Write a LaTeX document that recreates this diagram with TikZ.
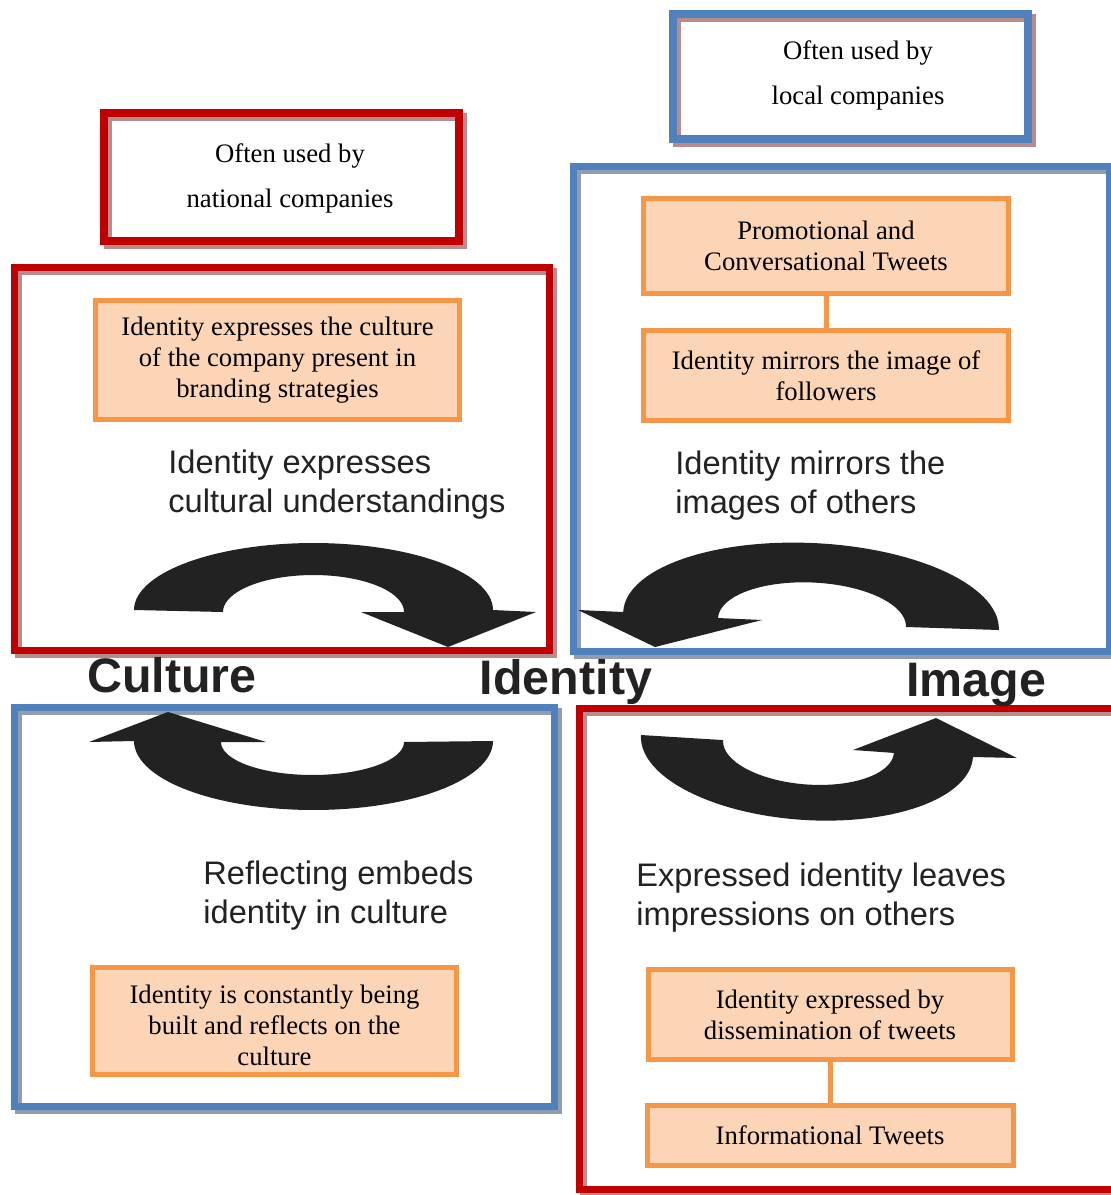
\documentclass[tikz,border=0pt]{standalone}
\usepackage{fontspec}
\setmainfont{Liberation Serif}
\newfontfamily\arialfont{Liberation Sans}
\definecolor{boxred}{RGB}{192,0,0}
\definecolor{boxblue}{RGB}{79,129,189}
\definecolor{shred}{RGB}{184,140,140}
\definecolor{shblue}{RGB}{145,156,172}
\definecolor{orline}{RGB}{247,150,70}
\definecolor{orfill}{RGB}{251,213,181}
\definecolor{ink}{RGB}{34,34,34}
\begin{document}
\begin{tikzpicture}[x=0.5pt,y=-0.5pt,
  frame/.style={rectangle, inner sep=0pt, outer sep=0pt, line width=3.5pt},
  redframe/.style={frame, draw=boxred},
  blueframe/.style={frame, draw=boxblue},
  shadowline/.style={line width=3.5pt},
  orbox/.style={rectangle, draw=orline, fill=orfill, line width=2.5pt, inner sep=0pt, align=center, text=black, font=\fontsize{13.35pt}{15.5pt}\selectfont},
  ortext/.style={inner sep=0pt, align=center, text=black, font=\fontsize{13.35pt}{15.5pt}\selectfont},
  orlink/.style={draw=orline, line width=2.5pt},
  sanslabel/.style={inner sep=0pt, align=left, anchor=west, text=ink, font=\arialfont\fontsize{16.3pt}{19.5pt}\selectfont},
  biglabel/.style={inner sep=0pt, anchor=base, text=ink, font=\arialfont\bfseries\fontsize{24.2pt}{29pt}\selectfont},
  usedtext/.style={inner sep=0pt, align=center, text=black, font=\fontsize{13.35pt}{22.5pt}\selectfont},
  arrowshape/.style={fill=ink, draw=none}
]
\useasboundingbox (0,0) rectangle (1111,1195);
\fill[white] (0,0) rectangle (1111,1195);

% shadows
\draw[shadowline, draw=shred] (18,271) rectangle (553,654);
\draw[shadowline, draw=shblue] (577,170) rectangle (1113,655);
\draw[shadowline, draw=shblue] (18,711) rectangle (558,1110);
\draw[shadowline, draw=shred] (583,712.5) rectangle (1129,1193.5);
\draw[line width=4pt, draw=shred] (108,117) rectangle (463,245);
\draw[line width=4pt, draw=shred] (677,18) rectangle (1032,143);

% frames
\node[redframe, minimum width=267.5pt, minimum height=191.5pt] (tlframe) at (281.5,458.5) {};
\node[blueframe, minimum width=268pt, minimum height=242.5pt] (trframe) at (841,408.5) {};
\node[blueframe, minimum width=270pt, minimum height=199.5pt] (blframe) at (284,906.5) {};
\node[redframe, minimum width=273pt, minimum height=240.5pt] (brframe) at (852,949) {};
\node[redframe, line width=4pt, minimum width=177.5pt, minimum height=64pt] (natframe) at (281.5,177) {};
\node[blueframe, line width=4pt, minimum width=177.5pt, minimum height=62.5pt] (locframe) at (850.5,76.5) {};

% curved arrows
\fill[arrowshape] plot[domain=180:0, samples=60] ({313.5+179.5*cos(\x)},{610-67*sin(\x)})
  -- (536,612) -- (448,647) -- (361,612) -- (404,612)
  -- plot[domain=0:180, samples=60] ({313.5+90.5*cos(\x)},{612-37*sin(\x)}) -- cycle;

\fill[arrowshape] plot[domain=0:180, samples=60] ({811+187.8*cos(\x)+3.73*sin(\x)},{621+9.0*cos(\x)-77.9*sin(\x)})
  -- (578,610) -- (655,647) -- (762,620)
  -- plot[domain=180:0, samples=60] ({812+93.9*cos(\x)+1.91*sin(\x)},{622.5+4.49*cos(\x)-39.95*sin(\x)}) -- cycle;

\fill[arrowshape] plot[domain=0:180, samples=60] ({313.5+179.5*cos(\x)},{741+69*sin(\x)})
  -- (89,742) -- (168,712) -- (266,742)
  -- plot[domain=180:0, samples=60] ({312.5+91.5*cos(\x)},{742+33*sin(\x)}) -- cycle;

\fill[arrowshape] plot[domain=180:0, samples=60] ({807+166.0*cos(\x)-4.89*sin(\x)},{746+11.0*cos(\x)+73.84*sin(\x)})
  -- (1017,758) -- (936,718) -- (853,750)
  -- plot[domain=0:180, samples=60] ({808.5+85.36*cos(\x)-2.85*sin(\x)},{746.5+6.42*cos(\x)+37.9*sin(\x)}) -- cycle;

% "often used by" texts
\node[usedtext] (nattext) at (290,178) {Often used by\\national companies};
\node[usedtext] (loctext) at (858,75.5) {Often used by\\local companies};

% orange boxes
\node[orbox, minimum width=182pt, minimum height=59.5pt] (oa) at (277.5,360) {Identity expresses the culture\\of the company present in\\branding strategies};
\node[orbox, minimum width=182.5pt, minimum height=47.5pt] (ob) at (826,246) {Promotional and\\Conversational Tweets};
\node[orbox, minimum width=182.5pt, minimum height=45pt] (oc) at (826,375.5) {Identity mirrors the image of\\followers};
\node[orbox, minimum width=182pt, minimum height=53.5pt] (od) at (274.5,1021) {};
\node[ortext] (odtext) at (274.5,1025) {Identity is constantly being\\built and reflects on the\\culture};
\node[orbox, minimum width=182pt, minimum height=45pt] (oe) at (830,1014.5) {Identity expressed by\\dissemination of tweets};
\node[orbox, minimum width=183pt, minimum height=30pt] (of) at (830,1135.5) {Informational Tweets};
\draw[orlink] (ob.south) -- (oc.north);
\draw[orlink] (oe.south) -- (of.north);

% sans labels
\node[sanslabel] (lblexpr) at (168,485) {Identity expresses\\cultural understandings};
\node[sanslabel] (lblmirr) at (675,486) {Identity mirrors the\\images of others};
\node[sanslabel] (lblrefl) at (203,896) {Reflecting embeds\\identity in culture};
\node[sanslabel] (lblleav) at (636,898) {Expressed identity leaves\\impressions on others};

% big labels
\node[biglabel] (culture) at (172,692) {Culture};
\node[biglabel] (identity) at (566,694) {Identity};
\node[biglabel] (image) at (976,696) {Image};
\end{tikzpicture}
\end{document}
